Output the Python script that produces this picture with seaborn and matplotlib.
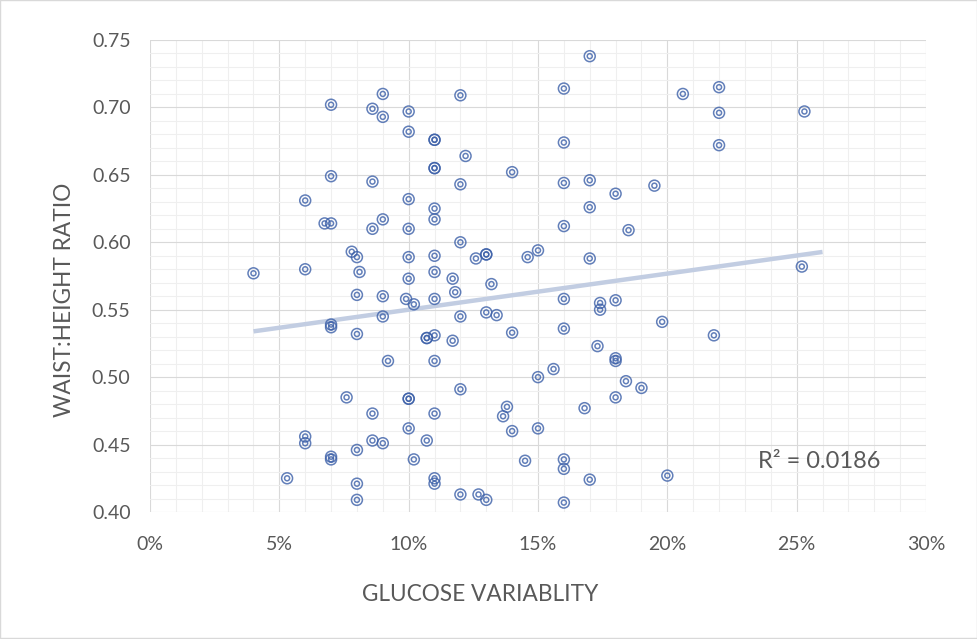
import seaborn as sns
import matplotlib.pyplot as plt
import matplotlib.ticker as mticker
import numpy as np
import pandas as pd

# glucose variability (fraction) and waist:height ratio
glucose = [
    0.040, 0.053,
    0.060, 0.060, 0.060, 0.060,
    0.0675,
    0.070, 0.070, 0.070, 0.070, 0.070, 0.070, 0.070,
    0.076, 0.078,
    0.080, 0.080, 0.080, 0.080, 0.080, 0.080,
    0.081,
    0.086, 0.086, 0.086, 0.086, 0.086,
    0.090, 0.090, 0.090, 0.090, 0.090, 0.090,
    0.092, 0.099,
    0.100, 0.100, 0.100, 0.100, 0.100, 0.100, 0.100, 0.100, 0.100,
    0.102, 0.102,
    0.107, 0.107, 0.107,
    0.110, 0.110, 0.110, 0.110, 0.110, 0.110, 0.110, 0.110, 0.110, 0.110,
    0.110, 0.110, 0.110, 0.110,
    0.117, 0.117, 0.118,
    0.120, 0.120, 0.120, 0.120, 0.120, 0.120,
    0.122, 0.126, 0.127,
    0.130, 0.130, 0.130, 0.130,
    0.132, 0.134, 0.1365, 0.138,
    0.140, 0.140, 0.140,
    0.145, 0.146,
    0.150, 0.150, 0.150,
    0.156,
    0.160, 0.160, 0.160, 0.160, 0.160, 0.160, 0.160, 0.160, 0.160,
    0.168,
    0.170, 0.170, 0.170, 0.170, 0.170,
    0.173, 0.174, 0.174,
    0.180, 0.180, 0.180, 0.180, 0.180,
    0.184, 0.185, 0.190, 0.195, 0.198, 0.200, 0.206, 0.218,
    0.220, 0.220, 0.220,
    0.252, 0.253,
]
waist_height = [
    0.577, 0.425,
    0.631, 0.580, 0.456, 0.451,
    0.614,
    0.702, 0.649, 0.614, 0.539, 0.537, 0.441, 0.439,
    0.485, 0.593,
    0.589, 0.561, 0.532, 0.446, 0.421, 0.409,
    0.578,
    0.699, 0.645, 0.610, 0.473, 0.453,
    0.710, 0.693, 0.617, 0.560, 0.545, 0.451,
    0.512, 0.558,
    0.697, 0.682, 0.632, 0.610, 0.589, 0.573, 0.484, 0.484, 0.462,
    0.554, 0.439,
    0.529, 0.529, 0.453,
    0.676, 0.676, 0.655, 0.655, 0.625, 0.617, 0.590, 0.578, 0.558, 0.531,
    0.512, 0.473, 0.425, 0.421,
    0.573, 0.527, 0.563,
    0.709, 0.643, 0.600, 0.545, 0.491, 0.413,
    0.664, 0.588, 0.413,
    0.591, 0.591, 0.548, 0.409,
    0.569, 0.546, 0.471, 0.478,
    0.652, 0.533, 0.460,
    0.438, 0.589,
    0.594, 0.500, 0.462,
    0.506,
    0.714, 0.674, 0.644, 0.612, 0.558, 0.536, 0.439, 0.432, 0.407,
    0.477,
    0.738, 0.646, 0.626, 0.588, 0.424,
    0.523, 0.555, 0.550,
    0.636, 0.557, 0.514, 0.512, 0.485,
    0.497, 0.609, 0.492, 0.642, 0.541, 0.427, 0.710, 0.531,
    0.715, 0.696, 0.672,
    0.582, 0.697,
]
trend_end = 0.26
r2_label = "R² = 0.0186"

df = pd.DataFrame({"glucose": glucose, "ratio": waist_height})

sns.set_style("white")
plt.rcParams["font.family"] = ["Lato", "DejaVu Sans"]
text_color = "#595959"
marker_color = "#3b5fa8"

fig = plt.figure(figsize=(9.77, 6.39), dpi=100)
ax = fig.add_axes([150 / 977, 1 - 512 / 639, 776 / 977, 472 / 639])

# double-ring markers
sns.scatterplot(data=df, x="glucose", y="ratio", ax=ax, s=62, marker="o",
                facecolor="none", edgecolor=marker_color, linewidth=1.1,
                alpha=0.8, zorder=3)
sns.scatterplot(data=df, x="glucose", y="ratio", ax=ax, s=13, marker="o",
                facecolor="none", edgecolor=marker_color, linewidth=1.1,
                alpha=0.8, zorder=3)

# linear trendline
slope, intercept = np.polyfit(df["glucose"], df["ratio"], 1)
tx = np.array([df["glucose"].min(), trend_end])
ax.plot(tx, slope * tx + intercept, color="#c2cde2", lw=3.2,
        solid_capstyle="butt", zorder=2)

ax.set_xlim(0, 0.30)
ax.set_ylim(0.40, 0.75)
ax.xaxis.set_major_locator(mticker.MultipleLocator(0.05))
ax.xaxis.set_minor_locator(mticker.MultipleLocator(0.01))
ax.yaxis.set_major_locator(mticker.MultipleLocator(0.05))
ax.yaxis.set_minor_locator(mticker.MultipleLocator(0.01))
ax.xaxis.set_major_formatter(mticker.FuncFormatter(lambda v, p: f"{v * 100:.0f}%"))
ax.yaxis.set_major_formatter(mticker.FormatStrFormatter("%.2f"))

ax.grid(which="major", color="#d9d9d9", lw=0.8)
ax.grid(which="minor", color="#efefef", lw=0.8)
ax.set_axisbelow(True)
for spine in ax.spines.values():
    spine.set_visible(False)

ax.tick_params(which="both", length=0)
ax.tick_params(axis="x", pad=17, labelsize=14, labelcolor=text_color)
ax.tick_params(axis="y", pad=14, labelsize=14, labelcolor=text_color)

ax.set_xlabel("GLUCOSE VARIABLITY", fontsize=16.3, color=text_color, va="center")
ax.set_ylabel("WAIST:HEIGHT RATIO", fontsize=16.3, color=text_color, va="center")
ax.xaxis.set_label_coords(0.4253, -0.1748)
ax.yaxis.set_label_coords(-0.1108, 0.449)

ax.text(0.235, 0.4378, r2_label, fontsize=17, color=text_color,
        ha="left", va="center")

# thin border around the chart area
fig.patches.append(plt.Rectangle((0.0005, 0.0008), 0.999, 0.9985,
                                 transform=fig.transFigure, fill=False,
                                 edgecolor="#d9d9d9", lw=1))

plt.savefig("out.png", dpi=100)
